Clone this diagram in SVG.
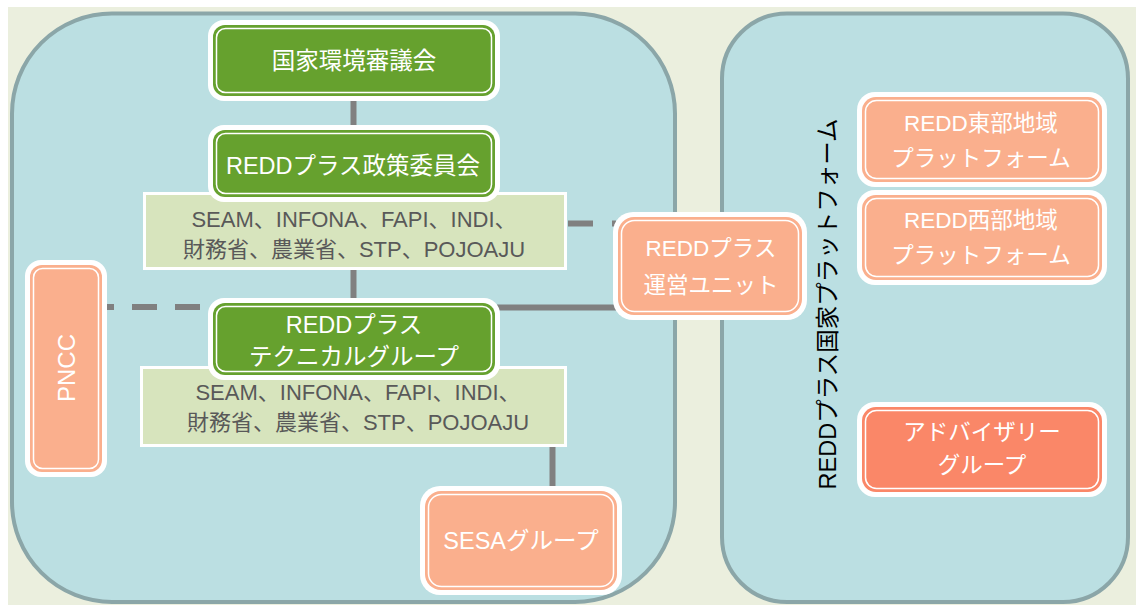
<svg xmlns="http://www.w3.org/2000/svg" width="1136" height="607" viewBox="0 0 1136 607">
<style>
.ow{fill:#FFFFFF}
.g{fill:#66A12E}
.s{fill:#FAAF8D}
.ds{fill:#FA8768}
.in{fill:none;stroke:#FFFFFF;stroke-width:1.5}
.lb{fill:#D7E4BD;stroke:#FFFFFF;stroke-width:3}
.panel{fill:#BBDFE2;stroke:#8BA6A8;stroke-width:4}
.f{font-family:"Liberation Sans","Noto Sans CJK JP",sans-serif;text-anchor:middle;dominant-baseline:central}
.t{font-size:22.5px;fill:#FFFFFF}
.tg{font-size:23.5px;fill:#FFFFFF}
.tl{font-size:22px;fill:#595959}
.tv{font-size:23.5px;fill:#000000}
.c{stroke:#808080;stroke-width:6;fill:none}
</style>
<rect x="8" y="7" width="1128" height="598" fill="#EBEFDE"/>
<rect class="panel" x="12" y="13.5" width="663" height="588.5" rx="100"/>
<rect class="panel" x="722" y="13.5" width="406" height="588.5" rx="65"/>
<text class="f tv" transform="translate(828,304) rotate(-90)">REDDプラス国家プラットフォーム</text>

<g id="connectors">
<line class="c" x1="353.5" y1="100" x2="353.5" y2="126"/>
<line class="c" x1="353.5" y1="269" x2="353.5" y2="300"/>
<line class="c" x1="552.5" y1="446" x2="552.5" y2="488"/>
<line class="c" x1="497" y1="307.5" x2="616" y2="307.5"/>
<line class="c" x1="568" y1="223.5" x2="616" y2="223.5" stroke-dasharray="25 19"/>
<line class="c" x1="107" y1="307" x2="209" y2="307" stroke-dasharray="25 18" stroke-dashoffset="18"/>
</g>

<g id="lightbox1">
<rect class="lb" x="144.5" y="193.5" width="421" height="75"/>
<text class="f tl" x="354" y="219">SEAM、INFONA、FAPI、INDI、</text>
<text class="f tl" x="354" y="249">財務省、農業省、STP、POJOAJU</text>
</g>
<g id="lightbox2">
<rect class="lb" x="141.5" y="367.5" width="424" height="78"/>
<text class="f tl" x="358" y="392">SEAM、INFONA、FAPI、INDI、</text>
<text class="f tl" x="358" y="422">財務省、農業省、STP、POJOAJU</text>
</g>

<g id="n_kokka">
<rect class="ow" x="208" y="20" width="292" height="81" rx="16"/>
<rect class="g" x="213" y="25" width="282" height="71" rx="12"/>
<rect class="in" x="216.5" y="28.5" width="275" height="64" rx="9"/>
<text class="f tg" x="354" y="61">国家環境審議会</text>
</g>
<g id="n_seisaku">
<rect class="ow" x="208" y="125" width="292" height="77" rx="16"/>
<rect class="g" x="213" y="130" width="282" height="67" rx="12"/>
<rect class="in" x="216.5" y="133.5" width="275" height="60" rx="9"/>
<text class="f tg" x="353" y="166">REDDプラス政策委員会</text>
</g>
<g id="n_technical">
<rect class="ow" x="208" y="298" width="292" height="82" rx="16"/>
<rect class="g" x="213" y="303" width="282" height="72" rx="12"/>
<rect class="in" x="216.5" y="306.5" width="275" height="65" rx="9"/>
<text class="f tg" x="354" y="325">REDDプラス</text>
<text class="f tg" x="354" y="357">テクニカルグループ</text>
</g>

<g id="n_pncc">
<rect class="ow" x="25" y="260" width="82" height="217" rx="16"/>
<rect class="s" x="30" y="265" width="72" height="207" rx="12"/>
<rect class="in" x="33.5" y="268.5" width="65" height="200" rx="9"/>
<text class="f t" style="font-size:24px" transform="translate(66,368) rotate(-90)">PNCC</text>
</g>

<g id="n_unit">
<rect class="ow" x="613" y="212" width="194" height="108" rx="20"/>
<rect class="s" x="618" y="217" width="184" height="98" rx="16"/>
<rect class="in" x="621.5" y="220.5" width="177" height="91" rx="13"/>
<text class="f t" x="711" y="248">REDDプラス</text>
<text class="f t" x="711" y="285">運営ユニット</text>
</g>

<g id="n_sesa">
<rect class="ow" x="420" y="486" width="202" height="109" rx="20"/>
<rect class="s" x="425" y="491" width="192" height="99" rx="16"/>
<rect class="in" x="428.5" y="494.5" width="185" height="92" rx="13"/>
<text class="f t" style="font-size:23.5px" x="521" y="541">SESAグループ</text>
</g>

<g id="n_east">
<rect class="ow" x="857" y="92" width="250" height="95" rx="18"/>
<rect class="s" x="862" y="97" width="240" height="85" rx="14"/>
<rect class="in" x="865.5" y="100.5" width="233" height="78" rx="11"/>
<text class="f t" x="981" y="123">REDD東部地域</text>
<text class="f t" x="981" y="158">プラットフォーム</text>
</g>
<g id="n_west">
<rect class="ow" x="857" y="190" width="250" height="95" rx="18"/>
<rect class="s" x="862" y="195" width="240" height="85" rx="14"/>
<rect class="in" x="865.5" y="198.5" width="233" height="78" rx="11"/>
<text class="f t" x="981" y="220">REDD西部地域</text>
<text class="f t" x="981" y="255">プラットフォーム</text>
</g>
<g id="n_advisory">
<rect class="ow" x="857" y="402" width="250" height="95" rx="18"/>
<rect class="ds" x="862" y="407" width="240" height="85" rx="14"/>
<rect class="in" x="865.5" y="410.5" width="233" height="78" rx="11"/>
<text class="f t" x="982" y="432">アドバイザリー</text>
<text class="f t" x="982" y="465">グループ</text>
</g>
</svg>
